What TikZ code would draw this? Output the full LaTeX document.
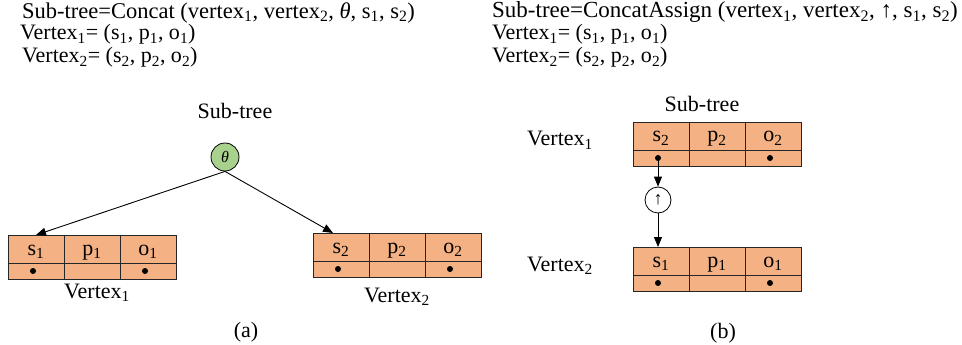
\documentclass[tikz,border=0pt]{standalone}
\usepackage{fontspec}
\setmainfont{Liberation Serif}
\usetikzlibrary{arrows.meta,calc}
\newcommand\sbs[1]{\textsubscript{#1}}
\definecolor{boxfill}{HTML}{F4B183}
\definecolor{thetafill}{HTML}{A9D18E}
\definecolor{edgecol}{HTML}{262626}
\tikzset{
 cell/.style={draw=edgecol, line width=0.9pt, fill=boxfill, inner sep=0pt, outer sep=0pt, minimum width=56pt, minimum height=28pt, text height=12pt, text depth=0pt, font=\fontsize{22}{24}\selectfont, anchor=north west},
 lowcell/.style={draw=edgecol, line width=0.9pt, fill=boxfill, inner sep=0pt, outer sep=0pt, minimum width=56pt, minimum height=16pt, anchor=north west},
 dotmark/.style={circle, fill=black, inner sep=0pt, minimum size=6pt},
 txt/.style={font=\fontsize{22}{24}\selectfont, inner sep=0pt, anchor=base west},
 lbl/.style={font=\fontsize{22}{24}\selectfont, inner sep=0pt, anchor=base},
 opnode/.style={circle, draw=black, line width=0.8pt, inner sep=0pt},
 conn/.style={line width=0.9pt, -{Triangle[length=10pt,width=8pt]}},
}
\newcommand\vertexrow[6]{%
 \node[cell] (#1s) at (#2,#3) {#4};
 \node[cell] (#1p) at (#1s.north east) {#5};
 \node[cell] (#1o) at (#1p.north east) {#6};
 \node[lowcell] (#1sb) at (#1s.south west) {};
 \node[lowcell] (#1pb) at (#1p.south west) {};
 \node[lowcell] (#1ob) at (#1o.south west) {};
 \node[dotmark] (#1sd) at ($(#1sb.center)+(-3,0)$) {};
 \node[dotmark] (#1od) at ($(#1ob.center)+(-3,0)$) {};
}
\begin{document}
\begin{tikzpicture}[x=1pt,y=-1pt]
\useasboundingbox (0,0) rectangle (962,345);
% ---- panel (a)
\node[txt, font=\fontsize{22.5}{25}\selectfont] (ta1) at (22,18.5) {Sub-tree=Concat (vertex\sbs{1}, vertex\sbs{2}, \textit{θ}, s\sbs{1}, s\sbs{2})};
\node[txt] (ta2) at (20,40) {Vertex\sbs{1}= (s\sbs{1}, p\sbs{1}, o\sbs{1})};
\node[txt] (ta3) at (22,63) {Vertex\sbs{2}= (s\sbs{2}, p\sbs{2}, o\sbs{2})};
\node[lbl] (sta) at (235,118) {Sub-tree};
\node[opnode, fill=thetafill, minimum size=28pt, font=\fontsize{16}{16}\selectfont\itshape] (theta) at (225,157) {θ};
\vertexrow{l}{8}{235}{s\sbs{1}}{p\sbs{1}}{o\sbs{1}}
\vertexrow{r}{313}{233}{s\sbs{2}}{p\sbs{2}}{o\sbs{2}}
\draw[conn] (theta.south) -- (ls.north);
\draw[conn] (theta.south) -- ($(rs.north)+(-8,0)$);
\node[lbl] (lv1) at (97,298) {Vertex\sbs{1}};
\node[lbl] (lv2) at (397,302) {Vertex\sbs{2}};
\node[lbl] (capa) at (246,337) {(a)};
% ---- panel (b)
\node[txt, font=\fontsize{23}{25}\selectfont] (tb1) at (492,17.5) {Sub-tree=ConcatAssign (vertex\sbs{1}, vertex\sbs{2}, ↑, s\sbs{1}, s\sbs{2})};
\node[txt] (tb2) at (492,40) {Vertex\sbs{1}= (s\sbs{1}, p\sbs{1}, o\sbs{1})};
\node[txt] (tb3) at (492,63) {Vertex\sbs{2}= (s\sbs{2}, p\sbs{2}, o\sbs{2})};
\node[lbl] (stb) at (702,111) {Sub-tree};
\vertexrow{t}{633}{122}{s\sbs{2}}{p\sbs{2}}{o\sbs{2}}
\vertexrow{b}{633}{247}{s\sbs{1}}{p\sbs{1}}{o\sbs{1}}
\node[opnode, fill=white, minimum size=26pt, font=\fontsize{18}{18}\selectfont] (up) at (tsd |- 0,200) {↑};
\draw[conn] (tsd.center) -- (up.north);
\draw[conn] (up.south) -- (up.south |- bs.north);
\node[txt] (bv1) at (527,146) {Vertex\sbs{1}};
\node[txt] (bv2) at (527,271) {Vertex\sbs{2}};
\node[lbl] (capb) at (723,338) {(b)};
\end{tikzpicture}
\end{document}
